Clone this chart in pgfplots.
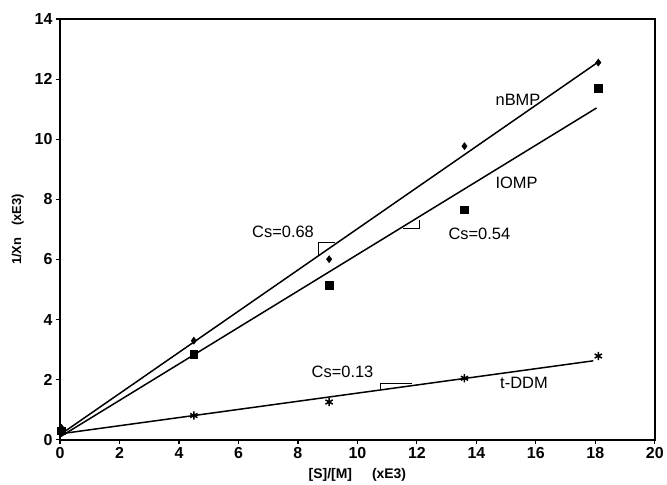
\documentclass[border=0pt]{standalone}
\usepackage{pgfplots}
\pgfplotsset{compat=1.18}
\usepackage{fontspec}
\setmainfont{Liberation Sans}
\begin{document}
\begin{tikzpicture}
\begin{axis}[
    scale only axis,
    width=595bp, height=421bp,
    xmin=0, xmax=20, ymin=0, ymax=14,
    xtick={0,2,...,20}, ytick={0,2,...,14},
    tick pos=left, tick align=outside,
    major tick length=4bp,
    axis line style={line width=1.8bp},
    tick style={line width=1.2bp, black},
    tick label style={font=\fontsize{16}{18}\selectfont\bfseries},
    /pgf/number format/assume math mode=true,
    xlabel={[S]/[M]\hspace{20bp}(xE3)},
    ylabel={1/Xn\hspace{12bp}(xE3)},
    xlabel style={font=\fontsize{14}{16}\selectfont\bfseries},
    ylabel style={font=\fontsize{13}{15}\selectfont\bfseries},
    xlabel shift=3bp,
    ylabel shift=4bp,
    clip=false,
]
% fitted lines
\addplot[black, line width=1.5bp] coordinates {(0,0.17) (18.04,12.53)};
\addplot[black, line width=1.5bp] coordinates {(0,0.10) (18.04,11.04)};
\addplot[black, line width=1.5bp] coordinates {(0,0.20) (17.93,2.63)};
% slope triangles
\addplot[black, line width=1bp] coordinates {(8.68,6.10) (8.68,6.57) (9.24,6.57)};
\addplot[black, line width=1bp] coordinates {(11.54,7.02) (12.10,7.02) (12.10,7.32)};
\addplot[black, line width=1bp] coordinates {(10.76,1.66) (10.76,1.86) (11.82,1.86)};
% data points
\addplot[only marks, mark=diamond*, mark size=3.6bp, black] coordinates {
(0.05,0.40) (4.5,3.30) (9.05,6.01) (13.6,9.77) (18.1,12.55)};
\addplot[only marks, mark=square*, mark size=3.8bp, black] coordinates {
(0.05,0.30) (4.5,2.86) (9.05,5.14) (13.6,7.65) (18.1,11.70)};
\addplot[only marks, mark=asterisk, mark size=4.2bp, black, line width=1.5bp] coordinates {
(0.05,0.25) (4.5,0.81) (9.05,1.26) (13.6,2.05) (18.1,2.79)};
% labels
\node[font=\fontsize{16.5}{18}\selectfont] at (axis cs:15.4,11.3) {nBMP};
\node[font=\fontsize{16.5}{18}\selectfont] at (axis cs:15.35,8.54) {IOMP};
\node[font=\fontsize{16.5}{18}\selectfont] at (axis cs:15.6,1.88) {t-DDM};
\node[font=\fontsize{16.5}{18}\selectfont] at (axis cs:7.5,6.93) {Cs=0.68};
\node[font=\fontsize{16.5}{18}\selectfont] at (axis cs:14.1,6.87) {Cs=0.54};
\node[font=\fontsize{16.5}{18}\selectfont] at (axis cs:9.5,2.27) {Cs=0.13};
% white margin as in the scan
\path (rel axis cs:0,1) ++(-60bp,19bp);
\end{axis}
\end{tikzpicture}
\end{document}
